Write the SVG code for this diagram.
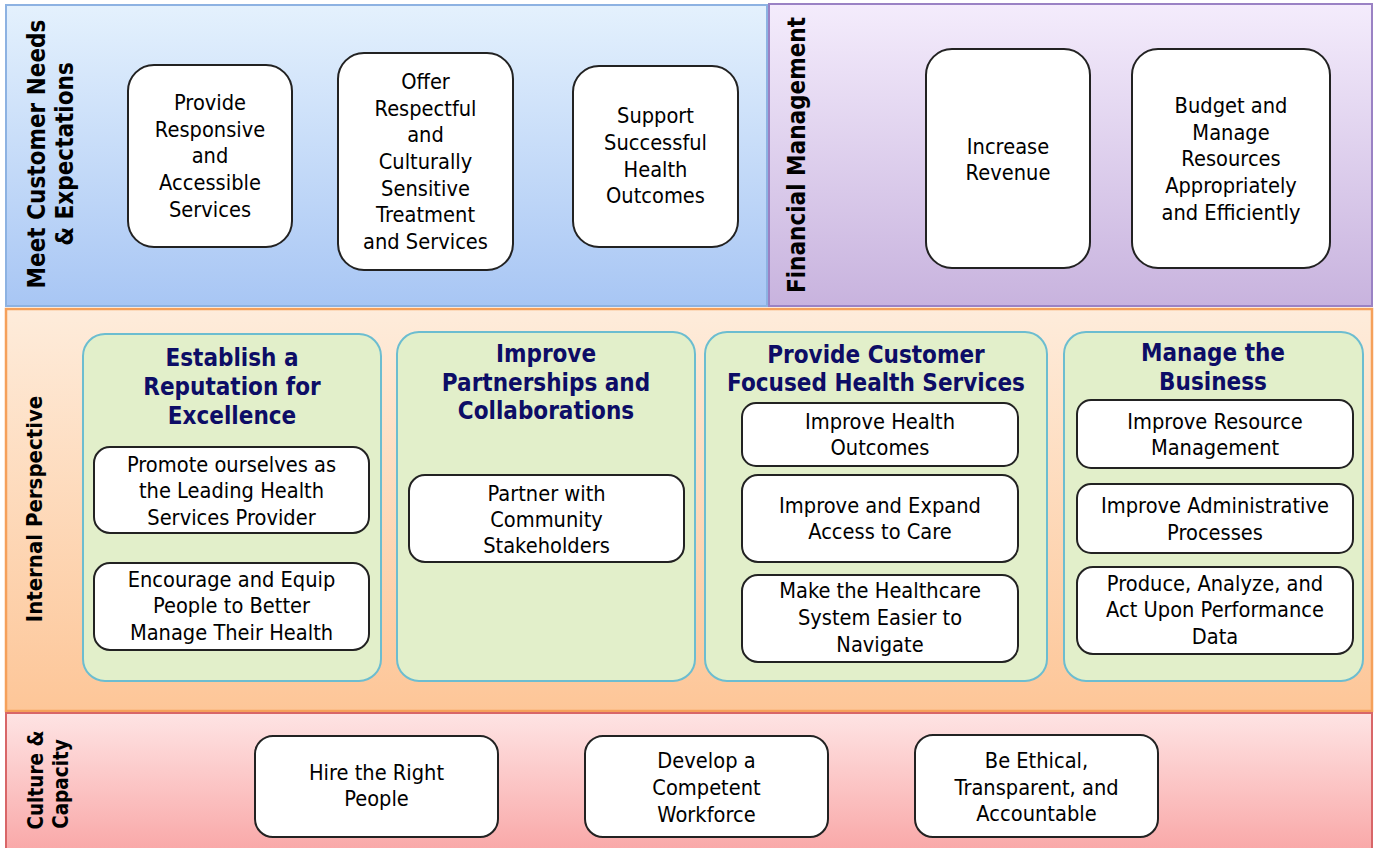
<svg xmlns="http://www.w3.org/2000/svg" width="1374" height="848" viewBox="0 0 1374 848">
<defs>
<linearGradient id="gBlue" x1="0" y1="0" x2="0" y2="1"><stop offset="0" stop-color="#e4f1fd"/><stop offset="1" stop-color="#a8c6f4"/></linearGradient>
<linearGradient id="gPurple" x1="0" y1="0" x2="0" y2="1"><stop offset="0" stop-color="#f4ecfc"/><stop offset="1" stop-color="#c8b3de"/></linearGradient>
<linearGradient id="gOrange" x1="0" y1="0" x2="0" y2="1"><stop offset="0" stop-color="#feecdb"/><stop offset="1" stop-color="#fdc698"/></linearGradient>
<linearGradient id="gPink" x1="0" y1="0" x2="0" y2="1"><stop offset="0" stop-color="#fee4e4"/><stop offset="1" stop-color="#f9a7a7"/></linearGradient>
</defs>
<style>
.body{font-family:"DejaVu Sans",Verdana,sans-serif;font-size:20.5px;fill:#000;text-anchor:middle}
.ttl{font-family:"DejaVu Sans",Verdana,sans-serif;font-weight:bold;font-size:24px;fill:#0d0d66;text-anchor:middle}
.lbl{font-family:"DejaVu Sans",Verdana,sans-serif;font-weight:bold;font-size:24px;fill:#000;text-anchor:middle}
.box{fill:#fff;stroke:#222;stroke-width:2}
.panel{fill:#e2efca;stroke:#6cbdd0;stroke-width:2}
</style>
<rect x="0" y="0" width="1374" height="848" fill="#fff"/>

<g id="band-customer">
<rect x="6" y="5" width="761" height="301" fill="url(#gBlue)" stroke="#8db2e2" stroke-width="2"/>
<text class="lbl" transform="translate(45,154) rotate(-90) scale(0.9,1)"><tspan x="0" y="0">Meet Customer Needs</tspan><tspan x="0" y="28">&amp; Expectations</tspan></text>
</g>
<g id="band-financial">
<rect x="769" y="4" width="603" height="302" fill="url(#gPurple)" stroke="#9a82c4" stroke-width="2"/>
<text class="lbl" transform="translate(805,155) rotate(-90) scale(0.9,1)"><tspan x="0" y="0">Financial Management</tspan></text>
</g>
<g id="band-internal">
<rect x="6" y="309" width="1366" height="402" fill="url(#gOrange)" stroke="#f5a05a" stroke-width="2.5"/>
<text class="lbl" style="font-size:22px" transform="translate(42,509) rotate(-90) scale(0.9,1)"><tspan x="0" y="0">Internal Perspective</tspan></text>
</g>
<g id="band-culture">
<rect x="6" y="713" width="1366" height="140" fill="url(#gPink)" stroke="#d86668" stroke-width="2"/>
<text class="lbl" style="font-size:20.5px" transform="rotate(-90) scale(0.9,1)"><tspan x="-866.7" y="43">Culture &amp;</tspan><tspan x="-871.1" y="68">Capacity</tspan></text>
</g>

<g id="connectors"></g>

<g id="n-responsive">
<rect class="box" x="128" y="65" width="164" height="182" rx="26"/>
<text class="body" transform="translate(210,0) scale(0.95,1)"><tspan x="0" y="110">Provide</tspan><tspan x="0" y="137">Responsive</tspan><tspan x="0" y="163">and</tspan><tspan x="0" y="190">Accessible</tspan><tspan x="0" y="217">Services</tspan></text>
</g>
<g id="n-respectful">
<rect class="box" x="338" y="53" width="175" height="217" rx="26"/>
<text class="body" transform="translate(425.5,0) scale(0.95,1)"><tspan x="0" y="89">Offer</tspan><tspan x="0" y="116">Respectful</tspan><tspan x="0" y="142">and</tspan><tspan x="0" y="169">Culturally</tspan><tspan x="0" y="196">Sensitive</tspan><tspan x="0" y="222">Treatment</tspan><tspan x="0" y="249">and Services</tspan></text>
</g>
<g id="n-outcomes">
<rect class="box" x="573" y="66" width="165" height="181" rx="26"/>
<text class="body" transform="translate(655.5,0) scale(0.95,1)"><tspan x="0" y="123">Support</tspan><tspan x="0" y="150">Successful</tspan><tspan x="0" y="177">Health</tspan><tspan x="0" y="203">Outcomes</tspan></text>
</g>
<g id="n-revenue">
<rect class="box" x="926" y="49" width="164" height="219" rx="26"/>
<text class="body" transform="translate(1008,0) scale(0.95,1)"><tspan x="0" y="154">Increase</tspan><tspan x="0" y="180">Revenue</tspan></text>
</g>
<g id="n-budget">
<rect class="box" x="1132" y="49" width="198" height="219" rx="26"/>
<text class="body" transform="translate(1231,0) scale(0.95,1)"><tspan x="0" y="113">Budget and</tspan><tspan x="0" y="140">Manage</tspan><tspan x="0" y="166">Resources</tspan><tspan x="0" y="193">Appropriately</tspan><tspan x="0" y="220">and Efficiently</tspan></text>
</g>

<g id="p-reputation">
<rect class="panel" x="83" y="334" width="298" height="347" rx="22"/>
<text class="ttl" transform="translate(232,0) scale(0.9,1)"><tspan x="0" y="366">Establish a</tspan><tspan x="0" y="395">Reputation for</tspan><tspan x="0" y="424">Excellence</tspan></text>
</g>
<g id="n-promote">
<rect class="box" x="94" y="447" width="275" height="86" rx="16"/>
<text class="body" transform="translate(231.5,0) scale(0.95,1)"><tspan x="0" y="472">Promote ourselves as</tspan><tspan x="0" y="498">the Leading Health</tspan><tspan x="0" y="525">Services Provider</tspan></text>
</g>
<g id="n-encourage">
<rect class="box" x="94" y="563" width="275" height="87" rx="16"/>
<text class="body" transform="translate(231.5,0) scale(0.95,1)"><tspan x="0" y="587">Encourage and Equip</tspan><tspan x="0" y="613">People to Better</tspan><tspan x="0" y="640">Manage Their Health</tspan></text>
</g>

<g id="p-partnerships">
<rect class="panel" x="397" y="332" width="298" height="349" rx="22"/>
<text class="ttl" transform="translate(546,0) scale(0.9,1)"><tspan x="0" y="362">Improve</tspan><tspan x="0" y="391">Partnerships and</tspan><tspan x="0" y="419">Collaborations</tspan></text>
</g>
<g id="n-partner">
<rect class="box" x="409" y="475" width="275" height="87" rx="16"/>
<text class="body" transform="translate(546.5,0) scale(0.95,1)"><tspan x="0" y="501">Partner with</tspan><tspan x="0" y="527">Community</tspan><tspan x="0" y="553">Stakeholders</tspan></text>
</g>

<g id="p-customer-focused">
<rect class="panel" x="705" y="332" width="342" height="349" rx="22"/>
<text class="ttl" transform="translate(876,0) scale(0.9,1)"><tspan x="0" y="363">Provide Customer</tspan><tspan x="0" y="391">Focused Health Services</tspan></text>
</g>
<g id="n-health-outcomes">
<rect class="box" x="742" y="403" width="276" height="63" rx="14"/>
<text class="body" transform="translate(880,0) scale(0.95,1)"><tspan x="0" y="429">Improve Health</tspan><tspan x="0" y="455">Outcomes</tspan></text>
</g>
<g id="n-access">
<rect class="box" x="742" y="475" width="276" height="87" rx="16"/>
<text class="body" transform="translate(880,0) scale(0.95,1)"><tspan x="0" y="513">Improve and Expand</tspan><tspan x="0" y="539">Access to Care</tspan></text>
</g>
<g id="n-navigate">
<rect class="box" x="742" y="575" width="276" height="87" rx="16"/>
<text class="body" transform="translate(880,0) scale(0.95,1)"><tspan x="0" y="598">Make the Healthcare</tspan><tspan x="0" y="625">System Easier to</tspan><tspan x="0" y="652">Navigate</tspan></text>
</g>

<g id="p-business">
<rect class="panel" x="1064" y="332" width="299" height="349" rx="22"/>
<text class="ttl" transform="translate(1213,0) scale(0.9,1)"><tspan x="0" y="361">Manage the</tspan><tspan x="0" y="390">Business</tspan></text>
</g>
<g id="n-resource">
<rect class="box" x="1077" y="400" width="276" height="68" rx="14"/>
<text class="body" transform="translate(1215,0) scale(0.95,1)"><tspan x="0" y="429">Improve Resource</tspan><tspan x="0" y="455">Management</tspan></text>
</g>
<g id="n-admin">
<rect class="box" x="1077" y="484" width="276" height="69" rx="14"/>
<text class="body" transform="translate(1215,0) scale(0.95,1)"><tspan x="0" y="513">Improve Administrative</tspan><tspan x="0" y="540">Processes</tspan></text>
</g>
<g id="n-performance">
<rect class="box" x="1077" y="567" width="276" height="87" rx="16"/>
<text class="body" transform="translate(1215,0) scale(0.95,1)"><tspan x="0" y="591">Produce, Analyze, and</tspan><tspan x="0" y="617">Act Upon Performance</tspan><tspan x="0" y="644">Data</tspan></text>
</g>

<g id="n-hire">
<rect class="box" x="255" y="736" width="243" height="101" rx="18"/>
<text class="body" transform="translate(376.5,0) scale(0.95,1)"><tspan x="0" y="780">Hire the Right</tspan><tspan x="0" y="806">People</tspan></text>
</g>
<g id="n-develop">
<rect class="box" x="585" y="736" width="243" height="101" rx="18"/>
<text class="body" transform="translate(706.5,0) scale(0.95,1)"><tspan x="0" y="768">Develop a</tspan><tspan x="0" y="795">Competent</tspan><tspan x="0" y="822">Workforce</tspan></text>
</g>
<g id="n-ethical">
<rect class="box" x="915" y="735" width="243" height="102" rx="18"/>
<text class="body" transform="translate(1036.5,0) scale(0.95,1)"><tspan x="0" y="768">Be Ethical,</tspan><tspan x="0" y="795">Transparent, and</tspan><tspan x="0" y="821">Accountable</tspan></text>
</g>
</svg>
